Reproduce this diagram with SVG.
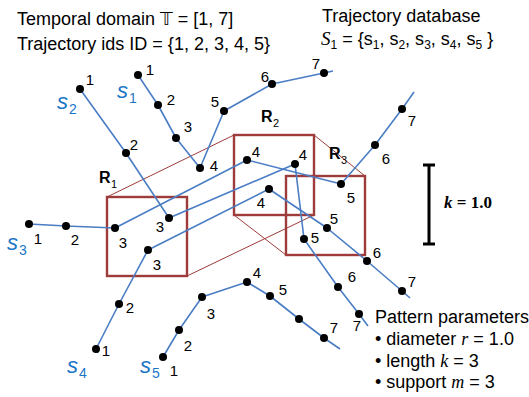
<svg xmlns="http://www.w3.org/2000/svg" width="529" height="397" viewBox="0 0 529 397">
<defs>
<style>
.traj{fill:none;stroke:#4a7dc4;stroke-width:1.6;stroke-linejoin:round}
.pt{fill:#000}
.num{font-family:"Liberation Sans",Arial,sans-serif;font-size:15px;fill:#000;text-anchor:middle}
.box{fill:none;stroke:#9e3b3b;stroke-width:2.4}
.conn{fill:none;stroke:#9e3b3b;stroke-width:1}
.sl{font-family:"Liberation Sans",Arial,sans-serif;font-style:italic;font-size:22px;fill:#1c76c6}
.ss{font-family:"Liberation Sans",Arial,sans-serif;font-size:14px;fill:#1c76c6}
.txt{font-family:"Liberation Sans",Arial,sans-serif;font-size:18px;fill:#000}
.math{font-family:"Liberation Serif","Times New Roman",serif;font-style:italic}
.rl{font-family:"Liberation Sans",Arial,sans-serif;font-weight:bold;font-size:16px;fill:#000}
.rs{font-family:"Liberation Sans",Arial,sans-serif;font-size:11px;fill:#000}
</style>
</defs>
<rect width="529" height="397" fill="#fff"/>

<g id="header">
<text class="txt" x="17" y="25">Temporal domain <tspan font-family="DejaVu Sans, sans-serif">𝕋</tspan> = [1, 7]</text>
<text class="txt" x="17" y="50">Trajectory ids ID = {1, 2, 3, 4, 5}</text>
<text class="txt" x="322" y="22">Trajectory database</text>
<text class="txt" x="321" y="45"><tspan class="math" font-size="19">S</tspan><tspan font-size="12" dy="4">1</tspan><tspan dy="-4"> = {s</tspan><tspan font-size="12" dy="4">1</tspan><tspan dy="-4">, s</tspan><tspan font-size="12" dy="4">2</tspan><tspan dy="-4">, s</tspan><tspan font-size="12" dy="4">3</tspan><tspan dy="-4">, s</tspan><tspan font-size="12" dy="4">4</tspan><tspan dy="-4">, s</tspan><tspan font-size="12" dy="4">5</tspan><tspan dy="-4"> }</tspan></text>
</g>

<g id="connectors">
<line class="conn" x1="107" y1="197" x2="234" y2="135"/>
<line class="conn" x1="187" y1="276" x2="314" y2="215"/>
<line class="conn" x1="314" y1="135" x2="365" y2="176"/>
<line class="conn" x1="234" y1="215" x2="286" y2="255"/>
</g>

<g id="R1"><rect class="box" x="107" y="197" width="80" height="79"/>
<text class="rl" x="99" y="183">R</text><text class="rs" x="111" y="188">1</text></g>
<g id="R2"><rect class="box" x="234" y="135" width="80" height="80"/>
<text class="rl" x="261" y="122">R</text><text class="rs" x="273" y="127">2</text></g>
<g id="R3"><rect class="box" x="286" y="176" width="79" height="79"/>
<text class="rl" x="329" y="159">R</text><text class="rs" x="341" y="164">3</text></g>

<g id="s1">
<polyline class="traj" points="138,75 158,105 176,138 200,168 224,111 272,84 324,73 333,71"/>
<g class="pt"><circle cx="138" cy="75" r="4"/><circle cx="158" cy="105" r="4"/><circle cx="176" cy="138" r="4"/><circle cx="200" cy="168" r="4"/><circle cx="224" cy="111" r="4"/><circle cx="272" cy="84" r="4"/><circle cx="324" cy="73" r="4"/></g>
<text class="num" x="150" y="75">1</text><text class="num" x="171" y="105">2</text><text class="num" x="188" y="132">3</text><text class="num" x="214" y="171">4</text><text class="num" x="215" y="107">5</text><text class="num" x="265" y="82">6</text><text class="num" x="316" y="69">7</text>
<text class="sl" x="117" y="98">s</text><text class="ss" x="129" y="103">1</text>
</g>

<g id="s2">
<polyline class="traj" points="80,89 126,153 169,218 295,164 304,239 338,287 359,314 368,326"/>
<g class="pt"><circle cx="80" cy="89" r="4"/><circle cx="126" cy="153" r="4"/><circle cx="169" cy="218" r="4"/><circle cx="295" cy="164" r="4"/><circle cx="304" cy="239" r="4"/><circle cx="338" cy="287" r="4"/><circle cx="359" cy="314" r="4"/></g>
<text class="num" x="90" y="85">1</text><text class="num" x="134" y="150">2</text><text class="num" x="160" y="232">3</text><text class="num" x="303" y="160">4</text><text class="num" x="315" y="243">5</text><text class="num" x="352" y="282">6</text><text class="num" x="357" y="331">7</text>
<text class="sl" x="57" y="109">s</text><text class="ss" x="69" y="114">2</text>
</g>

<g id="s3">
<polyline class="traj" points="29,224 66,226 115,228 247,160 341,184 375,145 402,109 414,92"/>
<g class="pt"><circle cx="29" cy="224" r="4"/><circle cx="66" cy="226" r="4"/><circle cx="115" cy="228" r="4"/><circle cx="247" cy="160" r="4"/><circle cx="341" cy="184" r="4"/><circle cx="375" cy="145" r="4"/><circle cx="402" cy="109" r="4"/></g>
<text class="num" x="38" y="244">1</text><text class="num" x="75" y="245">2</text><text class="num" x="123" y="248">3</text><text class="num" x="256" y="157">4</text><text class="num" x="351" y="203">5</text><text class="num" x="386" y="164">6</text><text class="num" x="412" y="126">7</text>
<text class="sl" x="7" y="250">s</text><text class="ss" x="19" y="255">3</text>
</g>

<g id="s4">
<polyline class="traj" points="98,353 96,349 119,304 148,250 269,189 327,228 367,261 402,291 410,298"/>
<g class="pt"><circle cx="96" cy="349" r="4"/><circle cx="119" cy="304" r="4"/><circle cx="148" cy="250" r="4"/><circle cx="269" cy="189" r="4"/><circle cx="327" cy="228" r="4"/><circle cx="367" cy="261" r="4"/><circle cx="402" cy="291" r="4"/></g>
<text class="num" x="106" y="356">1</text><text class="num" x="130" y="313">2</text><text class="num" x="157" y="270">3</text><text class="num" x="261" y="208">4</text><text class="num" x="334" y="224">5</text><text class="num" x="377" y="258">6</text><text class="num" x="412" y="287">7</text>
<text class="sl" x="67" y="373">s</text><text class="ss" x="79" y="378">4</text>
</g>

<g id="s5">
<polyline class="traj" points="163,357 179,330 202,297 247,282 270,296 299,319 324,338 340,349"/>
<g class="pt"><circle cx="163" cy="357" r="4"/><circle cx="179" cy="330" r="4"/><circle cx="202" cy="297" r="4"/><circle cx="247" cy="282" r="4"/><circle cx="270" cy="296" r="4"/><circle cx="299" cy="319" r="4"/><circle cx="324" cy="338" r="4"/></g>
<text class="num" x="174" y="376">1</text><text class="num" x="188" y="351">2</text><text class="num" x="211" y="319">3</text><text class="num" x="257" y="278">4</text><text class="num" x="283" y="295">5</text><text class="num" x="334" y="333">7</text>
<text class="sl" x="140" y="373">s</text><text class="ss" x="152" y="378">5</text>
</g>

<g id="scale">
<path d="M429,165 V244 M423,165 H435 M423,244 H435" stroke="#000" stroke-width="3" fill="none"/>
<text x="444" y="208" font-family="'Liberation Serif','Times New Roman',serif" font-weight="bold" font-size="17"><tspan font-style="italic">k</tspan> = 1.0</text>
</g>

<g id="params">
<text class="txt" x="375" y="323">Pattern parameters</text>
<text class="txt" x="375" y="345">• diameter <tspan class="math">r</tspan> = 1.0</text>
<text class="txt" x="375" y="367">• length <tspan class="math">k</tspan> = 3</text>
<text class="txt" x="375" y="388">• support <tspan class="math">m</tspan> = 3</text>
</g>
</svg>
